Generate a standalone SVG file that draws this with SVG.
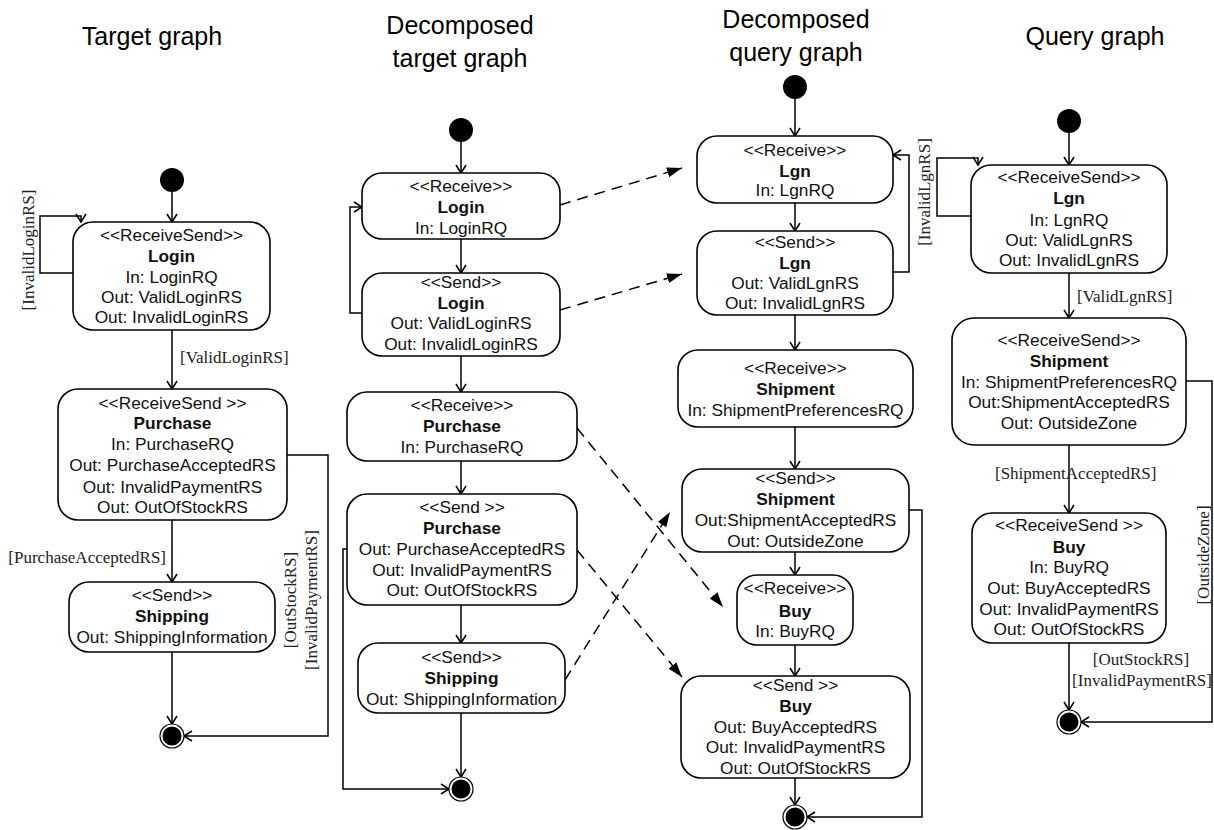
<svg xmlns="http://www.w3.org/2000/svg" width="1214" height="830" viewBox="0 0 1214 830">
<style>
.n rect{fill:#fff;stroke:#000;stroke-width:1.6}
.n text{font-family:"Liberation Sans",Arial,sans-serif;font-size:17.3px;text-anchor:middle;fill:#111}
.n text.b{font-weight:bold}
.t{font-family:"Liberation Sans",Arial,sans-serif;font-size:25px;text-anchor:middle;fill:#000}
.lb{font-family:"Liberation Serif","Times New Roman",serif;font-size:17px;fill:#222}
.c path{fill:none;stroke:#000;stroke-width:1.5}
.c path.d{stroke-dasharray:11 7}
.ini{fill:#000}
.fo{fill:#fff;stroke:#000;stroke-width:1.2}
.fi{fill:#000}
</style>
<defs>
<marker id="o" markerWidth="12" markerHeight="12" refX="10" refY="6" orient="auto" markerUnits="userSpaceOnUse">
<path d="M2,1 L10,6 L2,11" fill="none" stroke="#000" stroke-width="1.5"/>
</marker>
<marker id="f" markerWidth="16" markerHeight="12" refX="15" refY="6" orient="auto" markerUnits="userSpaceOnUse">
<path d="M0,1 L15,6 L0,11 Z" fill="#000"/>
</marker>
</defs>

<text class="t" x="152" y="45">Target graph</text>
<text class="t" x="460" y="34">Decomposed</text>
<text class="t" x="460" y="67">target graph</text>
<text class="t" x="796" y="28">Decomposed</text>
<text class="t" x="796" y="61">query graph</text>
<text class="t" x="1095" y="45">Query graph</text>

<g id="connectors" class="c">
<path d="M172,192 V222" marker-end="url(#o)"/>
<path d="M73,273 H40 V216 H81 V222" marker-end="url(#o)"/>
<path d="M172,330 V389" marker-end="url(#o)"/>
<path d="M172,520 V582" marker-end="url(#o)"/>
<path d="M172,652 V724" marker-end="url(#o)"/>
<path d="M287,455 H328 V736 H184" marker-end="url(#o)"/>

<path d="M461,142 V173" marker-end="url(#o)"/>
<path d="M461,239 V273" marker-end="url(#o)"/>
<path d="M362,313 H350 V207 H362" marker-end="url(#o)"/>
<path d="M461,356 V392" marker-end="url(#o)"/>
<path d="M461,461 V494" marker-end="url(#o)"/>
<path d="M347,549 H343 V789 H449" marker-end="url(#o)"/>
<path d="M461,605 V643" marker-end="url(#o)"/>
<path d="M461,713 V777" marker-end="url(#o)"/>

<path d="M795,99 V136" marker-end="url(#o)"/>
<path d="M795,203 V231" marker-end="url(#o)"/>
<path d="M893,272 H909 V155 H893" marker-end="url(#o)"/>
<path d="M795,315 V350" marker-end="url(#o)"/>
<path d="M795,427 V469" marker-end="url(#o)"/>
<path d="M795,552 V575" marker-end="url(#o)"/>
<path d="M795,645 V676" marker-end="url(#o)"/>
<path d="M795,778 V805" marker-end="url(#o)"/>
<path d="M909,510 H922 V817 H807" marker-end="url(#o)"/>

<path d="M1069,133 V165" marker-end="url(#o)"/>
<path d="M971,216 H937 V158 H978 V165" marker-end="url(#o)"/>
<path d="M1069,273 V318" marker-end="url(#o)"/>
<path d="M1069,445 V513" marker-end="url(#o)"/>
<path d="M1069,643 V710" marker-end="url(#o)"/>
<path d="M1186,381 H1212 V722 H1081" marker-end="url(#o)"/>

<path class="d" d="M560,205 L682,168" marker-end="url(#f)"/>
<path class="d" d="M560,310 L682,274" marker-end="url(#f)"/>
<path class="d" d="M577,428 L723,607" marker-end="url(#f)"/>
<path class="d" d="M577,550 L682,677" marker-end="url(#f)"/>
<path class="d" d="M565,680 L670,512" marker-end="url(#f)"/>
</g>

<g id="labels">
<text class="lb" transform="translate(34,250) rotate(-90)" text-anchor="middle">[InvalidLoginRS]</text>
<text class="lb" x="180" y="363">[ValidLoginRS]</text>
<text class="lb" x="166" y="563" text-anchor="end">[PurchaseAcceptedRS]</text>
<text class="lb" transform="translate(296,600) rotate(-90)" text-anchor="middle">[OutStockRS]</text>
<text class="lb" transform="translate(317,600) rotate(-90)" text-anchor="middle">[InvalidPaymentRS]</text>
<text class="lb" transform="translate(930,192) rotate(-90)" text-anchor="middle">[InvalidLgnRS]</text>
<text class="lb" x="1077" y="302">[ValidLgnRS]</text>
<text class="lb" x="995" y="479">[ShipmentAcceptedRS]</text>
<text class="lb" transform="translate(1209,555) rotate(-90)" text-anchor="middle">[OutsideZone]</text>
<text class="lb" x="1141" y="665" text-anchor="middle">[OutStockRS]</text>
<text class="lb" x="1142" y="686" text-anchor="middle">[InvalidPaymentRS]</text>
</g>

<g id="init1"><circle class="ini" cx="172" cy="180" r="12"/></g>
<g id="init2"><circle class="ini" cx="461" cy="130" r="12"/></g>
<g id="init3"><circle class="ini" cx="795" cy="87" r="12"/></g>
<g id="init4"><circle class="ini" cx="1069" cy="121" r="12"/></g>

<g id="final1"><circle class="fo" cx="172" cy="736" r="12"/><circle class="fi" cx="172" cy="736" r="9.5"/></g>
<g id="final2"><circle class="fo" cx="461" cy="789" r="12"/><circle class="fi" cx="461" cy="789" r="9.5"/></g>
<g id="final3"><circle class="fo" cx="795" cy="817" r="12"/><circle class="fi" cx="795" cy="817" r="9.5"/></g>
<g id="final4"><circle class="fo" cx="1069" cy="722" r="12"/><circle class="fi" cx="1069" cy="722" r="9.5"/></g>

<g id="t-login" class="n">
<rect x="73" y="222" width="197" height="108" rx="20"/>
<text x="171.5" y="241">&lt;&lt;ReceiveSend&gt;&gt;</text>
<text class="b" x="171.5" y="262">Login</text>
<text x="171.5" y="283">In: LoginRQ</text>
<text x="171.5" y="303">Out: ValidLoginRS</text>
<text x="171.5" y="323">Out: InvalidLoginRS</text>
</g>
<g id="t-purchase" class="n">
<rect x="58" y="389" width="229" height="131" rx="20"/>
<text x="172.5" y="409">&lt;&lt;ReceiveSend &gt;&gt;</text>
<text class="b" x="172.5" y="429">Purchase</text>
<text x="172.5" y="450">In: PurchaseRQ</text>
<text x="172.5" y="471">Out: PurchaseAcceptedRS</text>
<text x="172.5" y="493">Out: InvalidPaymentRS</text>
<text x="172.5" y="513">Out: OutOfStockRS</text>
</g>
<g id="t-shipping" class="n">
<rect x="69" y="582" width="206" height="70" rx="20"/>
<text x="172" y="601">&lt;&lt;Send&gt;&gt;</text>
<text class="b" x="172" y="622">Shipping</text>
<text x="172" y="643">Out: ShippingInformation</text>
</g>

<g id="dt-login-r" class="n">
<rect x="362" y="173" width="198" height="66" rx="20"/>
<text x="461" y="192">&lt;&lt;Receive&gt;&gt;</text>
<text class="b" x="461" y="213">Login</text>
<text x="461" y="234">In: LoginRQ</text>
</g>
<g id="dt-login-s" class="n">
<rect x="362" y="273" width="198" height="83" rx="20"/>
<text x="461" y="288">&lt;&lt;Send&gt;&gt;</text>
<text class="b" x="461" y="309">Login</text>
<text x="461" y="329">Out: ValidLoginRS</text>
<text x="461" y="350">Out: InvalidLoginRS</text>
</g>
<g id="dt-purchase-r" class="n">
<rect x="347" y="392" width="230" height="69" rx="20"/>
<text x="462" y="411">&lt;&lt;Receive&gt;&gt;</text>
<text class="b" x="462" y="432">Purchase</text>
<text x="462" y="453">In: PurchaseRQ</text>
</g>
<g id="dt-purchase-s" class="n">
<rect x="347" y="494" width="230" height="111" rx="20"/>
<text x="462" y="513">&lt;&lt;Send &gt;&gt;</text>
<text class="b" x="462" y="534">Purchase</text>
<text x="462" y="555">Out: PurchaseAcceptedRS</text>
<text x="462" y="576">Out: InvalidPaymentRS</text>
<text x="462" y="596">Out: OutOfStockRS</text>
</g>
<g id="dt-shipping" class="n">
<rect x="358" y="643" width="207" height="70" rx="20"/>
<text x="461.5" y="663">&lt;&lt;Send&gt;&gt;</text>
<text class="b" x="461.5" y="684">Shipping</text>
<text x="461.5" y="705">Out: ShippingInformation</text>
</g>

<g id="dq-lgn-r" class="n">
<rect x="697" y="136" width="196" height="67" rx="20"/>
<text x="795" y="156">&lt;&lt;Receive&gt;&gt;</text>
<text class="b" x="795" y="177">Lgn</text>
<text x="795" y="196">In: LgnRQ</text>
</g>
<g id="dq-lgn-s" class="n">
<rect x="697" y="231" width="196" height="84" rx="20"/>
<text x="795" y="248">&lt;&lt;Send&gt;&gt;</text>
<text class="b" x="795" y="269">Lgn</text>
<text x="795" y="289">Out: ValidLgnRS</text>
<text x="795" y="309">Out: InvalidLgnRS</text>
</g>
<g id="dq-shipment-r" class="n">
<rect x="678" y="350" width="235" height="77" rx="20"/>
<text x="795.5" y="374">&lt;&lt;Receive&gt;&gt;</text>
<text class="b" x="795.5" y="395">Shipment</text>
<text x="795.5" y="416">In: ShipmentPreferencesRQ</text>
</g>
<g id="dq-shipment-s" class="n">
<rect x="682" y="469" width="227" height="83" rx="20"/>
<text x="795.5" y="484">&lt;&lt;Send&gt;&gt;</text>
<text class="b" x="795.5" y="505">Shipment</text>
<text x="795.5" y="526">Out:ShipmentAcceptedRS</text>
<text x="795.5" y="547">Out: OutsideZone</text>
</g>
<g id="dq-buy-r" class="n">
<rect x="737" y="575" width="116" height="70" rx="20"/>
<text x="795" y="594">&lt;&lt;Receive&gt;&gt;</text>
<text class="b" x="795" y="617">Buy</text>
<text x="795" y="637">In: BuyRQ</text>
</g>
<g id="dq-buy-s" class="n">
<rect x="681" y="676" width="229" height="102" rx="20"/>
<text x="795.5" y="691">&lt;&lt;Send &gt;&gt;</text>
<text class="b" x="795.5" y="712">Buy</text>
<text x="795.5" y="733">Out: BuyAcceptedRS</text>
<text x="795.5" y="753">Out: InvalidPaymentRS</text>
<text x="795.5" y="774">Out: OutOfStockRS</text>
</g>

<g id="q-lgn" class="n">
<rect x="971" y="165" width="196" height="108" rx="20"/>
<text x="1069" y="183">&lt;&lt;ReceiveSend&gt;&gt;</text>
<text class="b" x="1069" y="204">Lgn</text>
<text x="1069" y="226">In: LgnRQ</text>
<text x="1069" y="246">Out: ValidLgnRS</text>
<text x="1069" y="266">Out: InvalidLgnRS</text>
</g>
<g id="q-shipment" class="n">
<rect x="952" y="318" width="234" height="127" rx="22"/>
<text x="1069" y="346">&lt;&lt;ReceiveSend&gt;&gt;</text>
<text class="b" x="1069" y="367">Shipment</text>
<text x="1069" y="388">In: ShipmentPreferencesRQ</text>
<text x="1069" y="408">Out:ShipmentAcceptedRS</text>
<text x="1069" y="429">Out: OutsideZone</text>
</g>
<g id="q-buy" class="n">
<rect x="972" y="513" width="194" height="130" rx="20"/>
<text x="1069" y="531">&lt;&lt;ReceiveSend &gt;&gt;</text>
<text class="b" x="1069" y="553">Buy</text>
<text x="1069" y="573">In: BuyRQ</text>
<text x="1069" y="594">Out: BuyAcceptedRS</text>
<text x="1069" y="615">Out: InvalidPaymentRS</text>
<text x="1069" y="635">Out: OutOfStockRS</text>
</g>
</svg>
